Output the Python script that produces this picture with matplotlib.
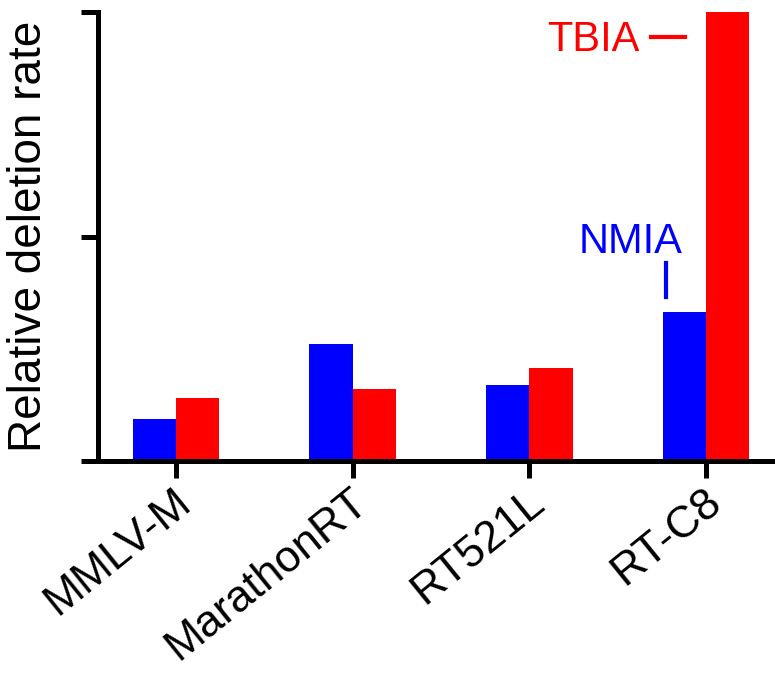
import numpy as np
import matplotlib
matplotlib.use('Agg')
import matplotlib.pyplot as plt
import matplotlib.transforms as mtransforms

plt.rcParams['font.family'] = ['Liberation Sans', 'DejaVu Sans']

enzymes = ['MMLV-M', 'MarathonRT', 'RT521L', 'RT-C8']
nmia    = [0.188, 0.521, 0.339, 0.664]
tbia    = [0.281, 0.321, 0.416, 2.0]

fig = plt.figure(figsize=(7.75, 6.75), dpi=100)
ax = fig.add_axes([0.1265, 0.317, 0.8735, 0.665])

x = np.arange(len(enzymes))
w = 0.245
ax.bar(x, nmia, width=-w, align='edge', color='#0000ff')
ax.bar(x, tbia, width=w, align='edge', color='#ff0000')

ax.set_xlim(-0.441, 3.39)
ax.set_ylim(0, 2)
ax.set_yticks([0, 1, 2])
ax.set_yticklabels([])
ax.set_xticks(x)
ax.set_xticklabels(enzymes, rotation=39, ha='right', va='baseline',
                   rotation_mode='anchor', fontsize=32)
ax.tick_params(width=3.6, length=12.5, direction='out')
ax.tick_params(axis='x', pad=20)

# nudge the slanted labels a bit to the right, like the original
offset = mtransforms.ScaledTranslation(0.17, 0, fig.dpi_scale_trans)
for lbl in ax.get_xticklabels():
    lbl.set_transform(lbl.get_transform() + offset)

for s in ['top', 'right']:
    ax.spines[s].set_visible(False)
for s in ['left', 'bottom']:
    ax.spines[s].set_linewidth(3.6)

ax.set_ylabel('Relative deletion rate', fontsize=33, labelpad=18)

# series labels
ax.text(2.626, 1.875, 'TBIA', color='#ff0000', fontsize=30, ha='right', va='center')
ax.plot([2.688, 2.881], [1.889, 1.889], color='#ff0000', lw=3, clip_on=False)
ax.text(2.575, 0.977, 'NMIA', color='#0000ff', fontsize=30, ha='center', va='center')
ax.plot([2.773, 2.773], [0.732, 0.883], color='#0000ff', lw=3, clip_on=False)

fig.savefig('out.png', dpi=100)
